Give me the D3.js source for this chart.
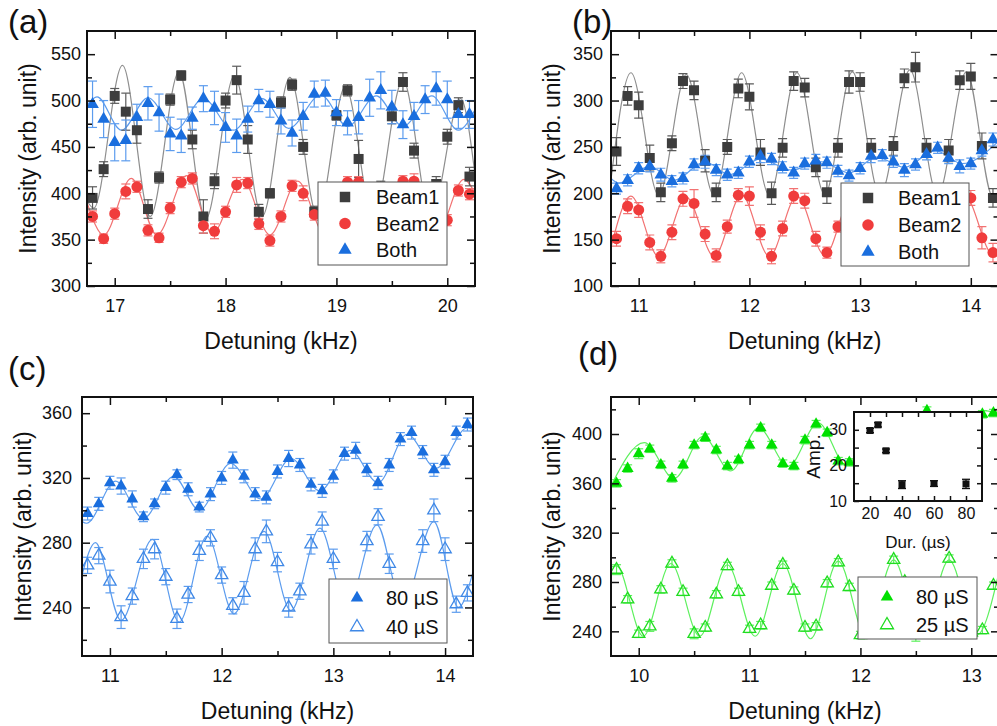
<!DOCTYPE html>
<html>
<head>
<meta charset="utf-8">
<script src="https://cdnjs.cloudflare.com/ajax/libs/d3/7.8.5/d3.min.js"></script>
<style>
body { margin: 0; background: #fff; }
svg { font-family: "Liberation Sans", Arial, sans-serif; }
</style>
</head>
<body>
<script>
// ---- données ----

// (a) désaccord 16.8 -> 20.2 kHz
var detA = [16.8,16.9,17.0,17.1,17.2,17.3,17.4,17.5,17.6,17.7,17.8,17.9,18.0,18.1,18.2,18.3,18.4,18.5,18.6,18.7,18.8,18.9,19.0,19.1,19.2,19.3,19.4,19.5,19.6,19.7,19.8,19.9,20.0,20.1,20.2];
var beam1A = [395,426,505,488,468,383,417,501,527,458,375,413,500,522,458,380,400,498,517,450,380,402,484,511,437,378,405,483,520,446,385,410,461,495,418];
var beam1AErr = [12,8,8,20,14,10,6,6,5,10,18,8,8,15,15,8,5,6,6,8,6,8,5,6,20,8,8,8,10,8,8,8,8,8,10];
var beam2A = [375,351,378,402,407,360,352,384,412,416,365,359,380,409,411,367,349,375,408,400,377,358,372,412,412,365,352,378,413,413,362,352,371,403,399];
var beam2AErr = [6,5,6,8,6,6,5,6,6,6,8,8,6,8,6,6,6,6,6,8,6,6,6,6,6,6,6,6,6,8,6,6,6,6,6];
var bothA = [496,480,455,457,482,497,487,464,462,481,502,492,471,462,480,500,496,478,465,483,507,508,487,476,482,503,511,493,474,483,501,513,501,485,485];
var bothAErr = [25,20,20,22,14,18,20,18,18,12,14,18,16,18,14,12,14,14,14,15,14,14,14,13,18,20,20,18,15,15,15,18,20,15,15];
// courbes d'ajustement : extrema
var fitBeam1A = [[16.75,392],[16.81,384],[17.07,538],[17.32,375],[17.58,531],[17.82,372],[18.08,527],[18.33,375],[18.58,525],[18.83,375],[19.08,515],[19.33,375],[19.6,522],[19.85,375],[20.12,502],[20.25,420]];
var fitBeam2A = [[16.75,390],[16.9,355],[17.15,416],[17.38,355],[17.65,419],[17.88,357],[18.15,415],[18.4,355],[18.65,413],[18.9,355],[19.15,413],[19.4,355],[19.65,414],[19.9,355],[20.15,415],[20.25,400]];
var fitBothA = [[16.75,495],[16.84,504],[17.06,468],[17.3,503],[17.55,469],[17.8,502],[18.07,468],[18.33,502],[18.57,470],[18.86,506],[19.1,472],[19.36,505],[19.6,472],[19.86,505],[20.1,468],[20.25,490]];

// (b) et (c) désaccord 10.8 -> 14.2 kHz
var detB = [10.8,10.9,11.0,11.1,11.2,11.3,11.4,11.5,11.6,11.7,11.8,11.9,12.0,12.1,12.2,12.3,12.4,12.5,12.6,12.7,12.8,12.9,13.0,13.1,13.2,13.3,13.4,13.5,13.6,13.7,13.8,13.9,14.0,14.1,14.2];
var beam1B = [245,305,295,238,201,254,321,311,235,201,250,313,304,244,200,249,321,314,228,201,249,320,320,249,200,251,324,336,249,200,246,322,326,251,195];
var beam1BErr = [15,10,14,14,10,8,8,10,12,10,8,10,14,14,12,10,10,10,10,12,10,12,10,10,10,10,10,16,10,10,12,10,14,14,10];
var beam2B = [151,186,182,147,132,158,194,189,156,133,164,198,197,158,132,162,197,192,151,136,164,198,196,160,133,162,196,192,152,134,163,196,195,152,136];
var beam2BErr = [8,8,8,8,7,8,8,15,8,7,7,7,10,8,8,8,8,8,8,6,6,8,8,8,8,8,8,8,8,8,8,8,8,12,10];
var bothB = [205,214,227,229,220,213,216,231,234,225,220,222,234,240,237,228,222,232,235,233,224,219,227,240,241,234,225,231,242,249,238,229,232,246,258];
var bothBErr = [6,6,6,6,7,6,6,6,7,6,6,6,6,7,6,6,6,6,7,6,6,6,6,7,6,6,7,6,6,6,6,7,6,6,7];
var fitBeam1B = [[10.75,215],[10.93,330],[11.18,198],[11.43,328],[11.68,198],[11.93,330],[12.18,198],[12.43,330],[12.68,199],[12.93,331],[13.18,198],[13.45,333],[13.7,198],[13.96,331],[14.2,196],[14.25,202]];
var fitBeam2B = [[10.75,142],[10.93,197],[11.18,132],[11.43,196],[11.68,132],[11.93,198],[12.18,132],[12.43,197],[12.68,133],[12.93,197],[13.18,133],[13.43,197],[13.68,133],[13.95,196],[14.2,134],[14.25,137]];
var fitBothB = [[10.75,216],[10.82,211],[11.1,229],[11.32,214],[11.6,234],[11.82,220],[12.1,237],[12.38,225],[12.65,234],[12.9,222],[13.15,239],[13.4,228],[13.68,246],[13.92,232],[14.25,256]];

var pulse80C = [298,304,317,315,307,296,304,314,322,313,302,310,320,331,321,310,308,324,332,328,316,312,321,335,337,325,317,328,344,348,336,325,330,348,353];
var pulse80CErr = [4,4,4,5,5,3,3,4,3,4,3,4,4,5,4,4,4,4,5,4,4,4,4,4,5,4,4,4,4,4,4,4,4,4,4];
var pulse40C = [266,272,256,234,247,270,276,259,233,248,275,283,260,241,249,276,287,268,240,250,279,293,270,245,242,281,296,267,244,240,281,300,276,242,249];
var pulse40CErr = [5,5,7,7,5,6,6,5,6,5,6,5,5,5,7,7,7,6,6,5,6,6,6,6,6,6,5,6,6,6,7,7,7,5,5];
var fit80C = [[10.75,293],[10.79,292],[11.05,318],[11.3,295],[11.57,321],[11.8,300],[12.08,329],[12.35,307],[12.62,332],[12.88,312],[13.15,337],[13.4,317],[13.66,347],[13.92,326],[14.2,351],[14.25,350]];
var fit40C = [[10.75,260],[10.87,280],[11.1,232],[11.38,282],[11.62,231],[11.87,284],[12.11,236],[12.38,287],[12.62,238],[12.88,289],[13.12,240],[13.39,291],[13.62,241],[13.9,293],[14.12,240],[14.25,262]];

// (d) désaccord 9.8 -> 13.2 kHz
var detD = [9.8,9.9,10.0,10.1,10.2,10.3,10.4,10.5,10.6,10.7,10.8,10.9,11.0,11.1,11.2,11.3,11.4,11.5,11.6,11.7,11.8,11.9,12.0,12.1,12.2,12.3,12.4,12.5,12.6,12.7,12.8,12.9,13.0,13.1,13.2];
var pulse80D = [360,372,384,388,375,364,375,391,397,387,374,379,391,405,391,376,374,395,408,401,378,377,383,397,405,397,388,405,419,408,395,400,410,416,417];
var pulse80DErr = [3,3,4,3,3,3,3,3,3,3,3,3,3,3,3,3,3,3,3,3,3,3,3,3,3,3,3,3,3,3,3,3,3,3,3];
var pulse25D = [290,266,238,244,274,295,272,238,243,270,293,272,242,245,277,294,273,243,244,279,296,276,237,245,275,298,280,238,245,275,299,277,239,241,277];
var pulse25DErr = [4,3,3,4,3,3,3,4,3,3,3,3,3,3,3,3,3,3,3,3,3,3,3,3,3,3,3,6,3,3,3,3,3,3,3];
var fit80D = [[9.75,358],[10.05,393],[10.32,364],[10.58,398],[10.83,370],[11.08,405],[11.35,374],[11.62,409],[11.87,375],[12.12,402],[12.37,386],[12.6,418],[12.85,396],[13.12,419],[13.25,416]];
var fit25D = [[9.75,292],[9.8,293],[10.04,236],[10.29,295],[10.55,236],[10.8,294],[11.05,236],[11.3,295],[11.55,234],[11.8,297],[12.05,236],[12.3,298],[12.55,236],[12.8,298],[13.05,237],[13.25,288]];

// encart (d)
var durInset = [20,25,30,40,60,80];
var ampInset = [29.8,31.4,24.1,14.6,14.9,14.8];
var ampInsetErr = [0.6,0.6,0.5,1.1,0.8,1.3];

// ---- couleurs ----
var cGray = "#3d3d3d", cGrayLine = "#8e8e8e", cGrayErr = "#5a5a5a";
var cRed = "#f03c3c", cRedLine = "#f27272";
var cBlue = "#1a6ede", cBlueLine = "#5c9cee", cBlueOpen = "#3f88e6";
var cGreen = "#00e000", cGreenLine = "#5ef05e", cGreenOpen = "#1fdd1f";

var svg = d3.select("body").append("svg")
    .attr("width", 997)
    .attr("height", 726);

var line = d3.line().curve(d3.curveMonotoneX);

function toPoints(xs, ys, es) {
	return xs.map(function(v, i) { return {x: v, y: ys[i], e: es ? es[i] : 0}; });
}

function drawPanel(p) {
	var x = d3.scaleLinear().domain(p.xDom).range([p.left, p.right]);
	var y = d3.scaleLinear().domain(p.yDom).range([p.bottom, p.top]);
	var w = p.right - p.left, h = p.bottom - p.top;

	svg.append("clipPath").attr("id", "clip-" + p.id)
		.append("rect").attr("x", p.left).attr("y", p.top).attr("width", w).attr("height", h);

	var plot = svg.append("g").attr("clip-path", "url(#clip-" + p.id + ")");

	// courbes d'ajustement
	p.series.forEach(function(s) {
		line.x(function(d) { return x(d[0]); }).y(function(d) { return y(d[1]); });
		plot.append("path")
			.attr("d", line(s.fit))
			.attr("fill", "none")
			.attr("stroke", s.lineColor)
			.attr("stroke-width", 1.2);
	});

	// barres d'erreur
	p.series.forEach(function(s) {
		var eg = plot.append("g").attr("stroke", s.errColor).attr("stroke-width", 1.2);
		s.pts.forEach(function(d) {
			var cx = x(d.x), y0 = y(d.y - d.e), y1 = y(d.y + d.e);
			eg.append("line").attr("x1", cx).attr("x2", cx).attr("y1", y0).attr("y2", y1);
			eg.append("line").attr("x1", cx - 4.5).attr("x2", cx + 4.5).attr("y1", y0).attr("y2", y0);
			eg.append("line").attr("x1", cx - 4.5).attr("x2", cx + 4.5).attr("y1", y1).attr("y2", y1);
		});
	});

	// symboles
	p.series.forEach(function(s) {
		plot.append("g").selectAll("path")
			.data(s.pts)
			.enter()
			.append("path")
			.attr("transform", function(d) { return "translate(" + x(d.x) + "," + y(d.y) + ")"; })
			.attr("d", d3.symbol().type(s.symbol).size(s.size))
			.attr("fill", s.fill)
			.attr("stroke", s.stroke)
			.attr("stroke-width", s.strokeWidth || 0);
	});

	// légende
	var lg = p.legend;
	svg.append("rect")
		.attr("x", lg.x).attr("y", lg.y).attr("width", lg.w).attr("height", lg.h)
		.attr("fill", "#fff").attr("stroke", "#555").attr("stroke-width", 1);
	p.series.forEach(function(s, i) {
		var ry = lg.rowY[i];
		svg.append("path")
			.attr("transform", "translate(" + lg.mx + "," + ry + ")")
			.attr("d", d3.symbol().type(s.symbol).size(s.size * 1.1))
			.attr("fill", s.fill)
			.attr("stroke", s.stroke)
			.attr("stroke-width", s.strokeWidth || 0);
		svg.append("text")
			.attr("x", lg.tx).attr("y", ry + 7)
			.attr("font-size", 20)
			.attr("fill", "#111")
			.text(s.name);
	});

	// axes : graduations vers l'intérieur sur les 4 côtés
	var axes = svg.append("g").attr("class", "axes");
	function addAxis(gen, scale, tx, ty, vals, size, labels, pad) {
		var a = gen(scale).tickValues(vals).tickSizeInner(-size).tickSizeOuter(0)
			.tickPadding(pad || 6).tickFormat(labels ? d3.format("d") : "");
		var ga = axes.append("g")
			.attr("transform", "translate(" + tx + "," + ty + ")")
			.call(a);
		ga.select(".domain").remove();
		ga.selectAll("line").attr("stroke", "#111").attr("stroke-width", 1.5);
		ga.selectAll("text").attr("font-size", 18).attr("fill", "#111").attr("font-family", null);
	}
	addAxis(d3.axisBottom, x, 0, p.bottom, p.xMajor, 8, true, 13);
	addAxis(d3.axisBottom, x, 0, p.bottom, p.xMinor, 5, false);
	addAxis(d3.axisTop, x, 0, p.top, p.xMajor, 8, false);
	addAxis(d3.axisTop, x, 0, p.top, p.xMinor, 5, false);
	addAxis(d3.axisLeft, y, p.left, 0, p.yMajor, 8, true, p.yPad);
	addAxis(d3.axisLeft, y, p.left, 0, p.yMinor, 5, false);
	addAxis(d3.axisRight, y, p.right, 0, p.yMajor, 8, false);
	addAxis(d3.axisRight, y, p.right, 0, p.yMinor, 5, false);

	svg.append("rect")
		.attr("x", p.left).attr("y", p.top).attr("width", w).attr("height", h)
		.attr("fill", "none").attr("stroke", "#111").attr("stroke-width", 2);

	// titres
	svg.append("text")
		.attr("x", (p.left + p.right) / 2).attr("y", p.bottom + 63)
		.attr("text-anchor", "middle").attr("font-size", 23).attr("fill", "#111")
		.text("Detuning (kHz)");
	svg.append("text")
		.attr("transform", "translate(" + (p.left - 51) + "," + ((p.top + p.bottom) / 2) + ") rotate(-90)")
		.attr("text-anchor", "middle").attr("font-size", 23).attr("fill", "#111")
		.text("Intensity (arb. unit)");
	svg.append("text")
		.attr("x", p.labelX).attr("y", p.labelY)
		.attr("font-size", 33).attr("fill", "#111")
		.text(p.label);

	return {x: x, y: y};
}

drawPanel({
	id: "a", label: "(a)", labelX: 8, labelY: 33,
	left: 87, right: 475, top: 31, bottom: 286,
	xDom: [16.75, 20.25], yDom: [300, 575],
	xMajor: [17, 18, 19, 20], xMinor: [17.5, 18.5, 19.5],
	yMajor: [300, 350, 400, 450, 500, 550], yMinor: [325, 375, 425, 475, 525], yPad: 6,
	series: [
		{name: "Beam1", pts: toPoints(detA, beam1A, beam1AErr), fit: fitBeam1A, symbol: d3.symbolSquare, size: 100,
		 fill: cGray, stroke: "none", lineColor: cGrayLine, errColor: cGrayErr},
		{name: "Beam2", pts: toPoints(detA, beam2A, beam2AErr), fit: fitBeam2A, symbol: d3.symbolCircle, size: 95,
		 fill: cRed, stroke: "none", lineColor: cRedLine, errColor: cRedLine},
		{name: "Both", pts: toPoints(detA, bothA, bothAErr), fit: fitBothA, symbol: d3.symbolTriangle, size: 70,
		 fill: cBlue, stroke: "none", lineColor: cBlueLine, errColor: cBlueLine}
	],
	legend: {x: 318, y: 182, w: 129, h: 83, mx: 345, tx: 376, rowY: [197, 223.5, 250]}
});

drawPanel({
	id: "b", label: "(b)", labelX: 572, labelY: 33,
	left: 611, right: 998.5, top: 31, bottom: 286,
	xDom: [10.75, 14.25], yDom: [100, 375],
	xMajor: [11, 12, 13, 14], xMinor: [11.5, 12.5, 13.5],
	yMajor: [100, 150, 200, 250, 300, 350], yMinor: [125, 175, 225, 275, 325], yPad: 8,
	series: [
		{name: "Beam1", pts: toPoints(detB, beam1B, beam1BErr), fit: fitBeam1B, symbol: d3.symbolSquare, size: 100,
		 fill: cGray, stroke: "none", lineColor: cGrayLine, errColor: cGrayErr},
		{name: "Beam2", pts: toPoints(detB, beam2B, beam2BErr), fit: fitBeam2B, symbol: d3.symbolCircle, size: 95,
		 fill: cRed, stroke: "none", lineColor: cRedLine, errColor: cRedLine},
		{name: "Both", pts: toPoints(detB, bothB, bothBErr), fit: fitBothB, symbol: d3.symbolTriangle, size: 70,
		 fill: cBlue, stroke: "none", lineColor: cBlueLine, errColor: cBlueLine}
	],
	legend: {x: 841, y: 183, w: 128, h: 83, mx: 868, tx: 898, rowY: [198, 225, 252]}
});

drawPanel({
	id: "c", label: "(c)", labelX: 8, labelY: 380,
	left: 82, right: 473, top: 397, bottom: 656,
	xDom: [10.75, 14.25], yDom: [210, 370],
	xMajor: [11, 12, 13, 14], xMinor: [11.5, 12.5, 13.5],
	yMajor: [240, 280, 320, 360], yMinor: [220, 260, 300, 340], yPad: 10,
	series: [
		{name: "80 µS", pts: toPoints(detB, pulse80C, pulse80CErr), fit: fit80C, symbol: d3.symbolTriangle, size: 62,
		 fill: cBlue, stroke: "none", lineColor: cBlueLine, errColor: cBlueLine},
		{name: "40 µS", pts: toPoints(detB, pulse40C, pulse40CErr), fit: fit40C, symbol: d3.symbolTriangle, size: 66,
		 fill: "none", stroke: cBlueOpen, strokeWidth: 1.3, lineColor: cBlueLine, errColor: cBlueLine}
	],
	legend: {x: 329, y: 579, w: 118, h: 64, mx: 357, tx: 386, rowY: [598, 627]}
});

drawPanel({
	id: "d", label: "(d)", labelX: 578, labelY: 365,
	left: 611, right: 999, top: 397, bottom: 656,
	xDom: [9.75, 13.25], yDom: [220, 430],
	xMajor: [10, 11, 12, 13], xMinor: [10.5, 11.5, 12.5],
	yMajor: [240, 280, 320, 360, 400], yMinor: [260, 300, 340, 380, 420], yPad: 9,
	series: [
		{name: "80 µS", pts: toPoints(detD, pulse80D, pulse80DErr), fit: fit80D, symbol: d3.symbolTriangle, size: 62,
		 fill: cGreen, stroke: "none", lineColor: cGreenLine, errColor: cGreenLine},
		{name: "25 µS", pts: toPoints(detD, pulse25D, pulse25DErr), fit: fit25D, symbol: d3.symbolTriangle, size: 66,
		 fill: "none", stroke: cGreenOpen, strokeWidth: 1.3, lineColor: cGreenLine, errColor: cGreenLine}
	],
	legend: {x: 858, y: 577, w: 119, h: 62, mx: 887, tx: 916, rowY: [597, 625]}
});

// ---- encart (d) : amplitude vs durée ----
var inL = 854, inR = 982, inT = 412, inB = 501;
var ix = d3.scaleLinear().domain([10, 90]).range([inL, inR]);
var iy = d3.scaleLinear().domain([10, 35]).range([inB, inT]);
var inset = svg.append("g");
inset.append("rect")
	.attr("x", inL).attr("y", inT).attr("width", inR - inL).attr("height", inB - inT)
	.attr("fill", "#fff");

function insetAxis(gen, tx, ty, scale, vals, labels) {
	var a = gen(scale).tickValues(vals).tickSizeInner(-5).tickSizeOuter(0)
		.tickPadding(labels ? 7 : 3).tickFormat(labels ? d3.format("d") : "");
	var ga = inset.append("g").attr("transform", "translate(" + tx + "," + ty + ")").call(a);
	ga.select(".domain").remove();
	ga.selectAll("line").attr("stroke", "#111").attr("stroke-width", 1.5);
	ga.selectAll("text").attr("font-size", 16).attr("fill", "#111").attr("font-family", null);
	return ga;
}
insetAxis(d3.axisBottom, 0, inB, ix, [20, 40, 60, 80], true);
insetAxis(d3.axisBottom, 0, inB, ix, [30, 50, 70], false);
insetAxis(d3.axisTop, 0, inT, ix, [20, 30, 40, 50, 60, 70, 80], false);
insetAxis(d3.axisLeft, inL, 0, iy, [10, 20, 30], true);
insetAxis(d3.axisLeft, inL, 0, iy, [15, 25], false);
insetAxis(d3.axisRight, inR, 0, iy, [15, 20, 25, 30], false);

var ipts = toPoints(durInset, ampInset, ampInsetErr);
var ieg = inset.append("g").attr("stroke", "#111").attr("stroke-width", 1.3);
ipts.forEach(function(d) {
	var cx = ix(d.x), y0 = iy(d.y - d.e), y1 = iy(d.y + d.e);
	ieg.append("line").attr("x1", cx).attr("x2", cx).attr("y1", y0).attr("y2", y1);
	ieg.append("line").attr("x1", cx - 4).attr("x2", cx + 4).attr("y1", y0).attr("y2", y0);
	ieg.append("line").attr("x1", cx - 4).attr("x2", cx + 4).attr("y1", y1).attr("y2", y1);
});
inset.append("g").selectAll("rect")
	.data(ipts)
	.enter()
	.append("rect")
	.attr("x", function(d) { return ix(d.x) - 3.5; })
	.attr("y", function(d) { return iy(d.y) - 3.5; })
	.attr("width", 7).attr("height", 7)
	.attr("fill", "#111");

inset.append("rect")
	.attr("x", inL).attr("y", inT).attr("width", inR - inL).attr("height", inB - inT)
	.attr("fill", "none").attr("stroke", "#111").attr("stroke-width", 2);
inset.append("text")
	.attr("x", (inL + inR) / 2).attr("y", 548)
	.attr("text-anchor", "middle").attr("font-size", 17).attr("fill", "#111")
	.text("Dur. (µs)");
inset.append("text")
	.attr("transform", "translate(820," + ((inT + inB) / 2) + ") rotate(-90)")
	.attr("text-anchor", "middle").attr("font-size", 19).attr("fill", "#111")
	.text("Amp.");
</script>
</body>
</html>
